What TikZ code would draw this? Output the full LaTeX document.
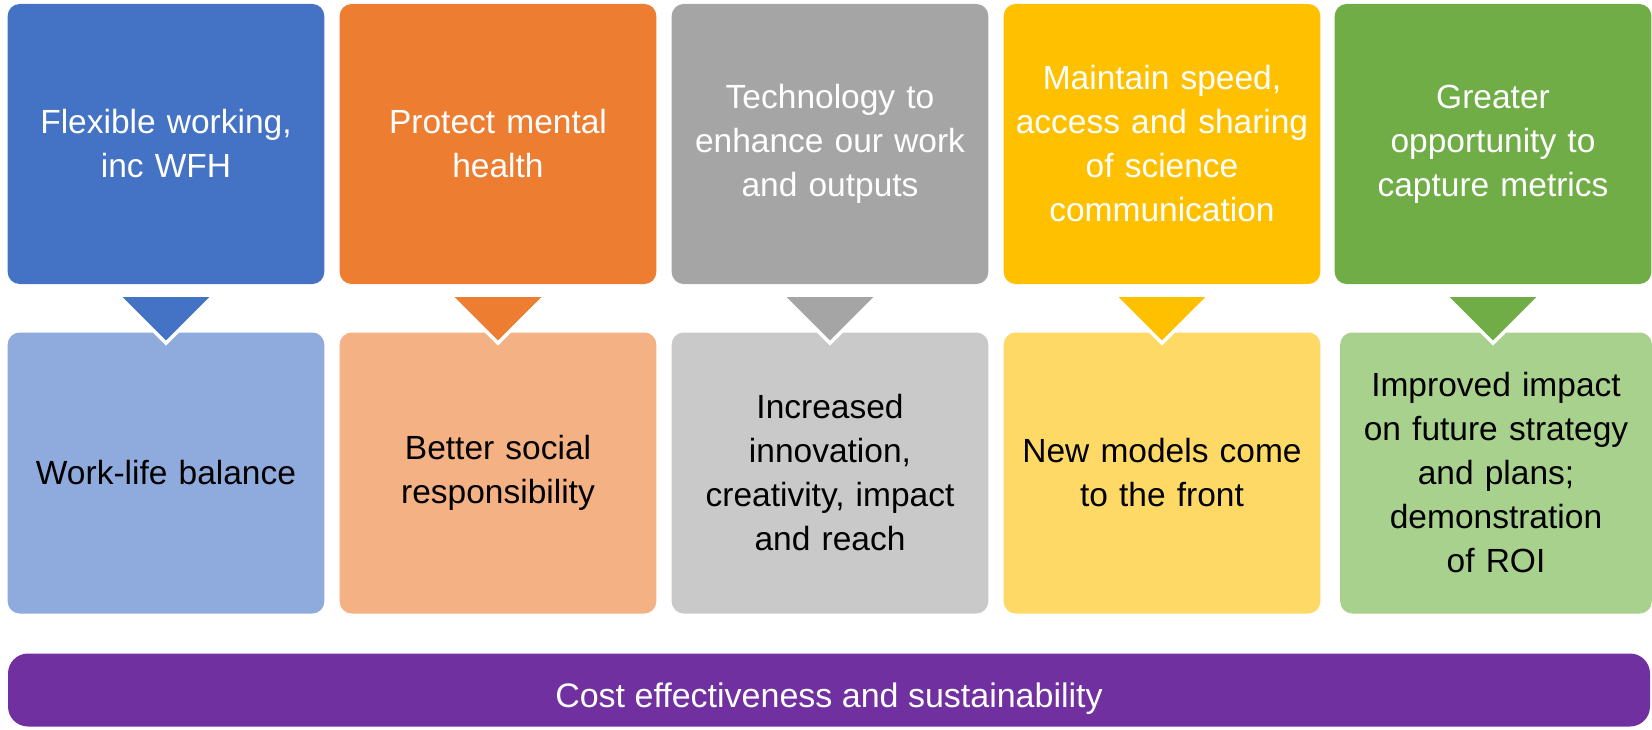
\documentclass[tikz,border=0pt]{standalone}
\usepackage{fontspec}
\newfontfamily\boxfont{Liberation Sans}
\usepackage{tikz}
\usetikzlibrary{calc}

\definecolor{cblue}{HTML}{4472C4}
\definecolor{corange}{HTML}{ED7D31}
\definecolor{cgray}{HTML}{A5A5A5}
\definecolor{cyellow}{HTML}{FFC000}
\definecolor{cgreen}{HTML}{70AD47}
\definecolor{lblue}{HTML}{8FAADC}
\definecolor{lorange}{HTML}{F4B183}
\definecolor{lgray}{HTML}{C9C9C9}
\definecolor{lyellow}{HTML}{FFD966}
\definecolor{lgreen}{HTML}{A9D18E}
\definecolor{cpurple}{HTML}{7030A0}

\tikzset{
    topbox/.style={rounded corners=12pt, minimum width=315pt, minimum height=280pt, text width=310pt, align=center, text=white, font=\boxfont\fontsize{33.5}{44}\selectfont},
    lowbox/.style={rounded corners=12pt, minimum width=315pt, minimum height=281pt, text width=310pt, align=center, text=black, font=\boxfont\fontsize{33.5}{44}\selectfont},
    pointer/.style={draw=white, line width=3.5pt, line join=miter}
}

\begin{document}
\begin{tikzpicture}[x=1pt, y=-1pt]
        \useasboundingbox (0,0) rectangle (1652,730);

        \node[topbox, fill=cblue] (T1) at (166, 144) {Flexible working,\\inc WFH};
        \node[topbox, fill=corange] (T2) at (498, 144) {Protect mental\\health};
        \node[topbox, fill=cgray] (T3) at (830, 144) {Technology to\\enhance our work\\and outputs};
        \node[topbox, fill=cyellow] (T4) at (1162, 144) {Maintain speed,\\access and sharing\\of science\\communication};
        \node[topbox, fill=cgreen] (T5) at (1493, 144) {Greater\\opportunity to\\capture metrics};

        \node[lowbox, fill=lblue] (B1) at (166, 473) {Work-life balance};
        \node[lowbox, fill=lorange] (B2) at (498, 473) {Better social\\responsibility};
        \node[lowbox, fill=lgray] (B3) at (830, 473) {Increased\\innovation,\\creativity, impact\\and reach};
        \node[lowbox, fill=lyellow] (B4) at (1162, 473) {New models come\\to the front};
        \node[lowbox, fill=lgreen, minimum width=308pt, text width=305pt] (B5) at (1496, 473) {Improved impact\\on future strategy\\and plans;\\demonstration\\of ROI};

        \node[rounded corners=20pt, fill=cpurple, minimum width=1642pt, minimum height=73pt, text height=34pt, text depth=0pt, text=white, font=\boxfont\fontsize{34}{40}\selectfont] (C) at (829, 690) {Cost effectiveness and sustainability};

        \foreach \n/\c in {1/cblue, 2/corange, 3/cgray, 4/cyellow, 5/cgreen}
            \filldraw[pointer, fill=\c] ($(T\n.south)+(-48,11)$) -- ($(T\n.south)+(48,11)$) -- ($(T\n.south)+(0,59)$) -- cycle;
    \end{tikzpicture}
\end{document}
